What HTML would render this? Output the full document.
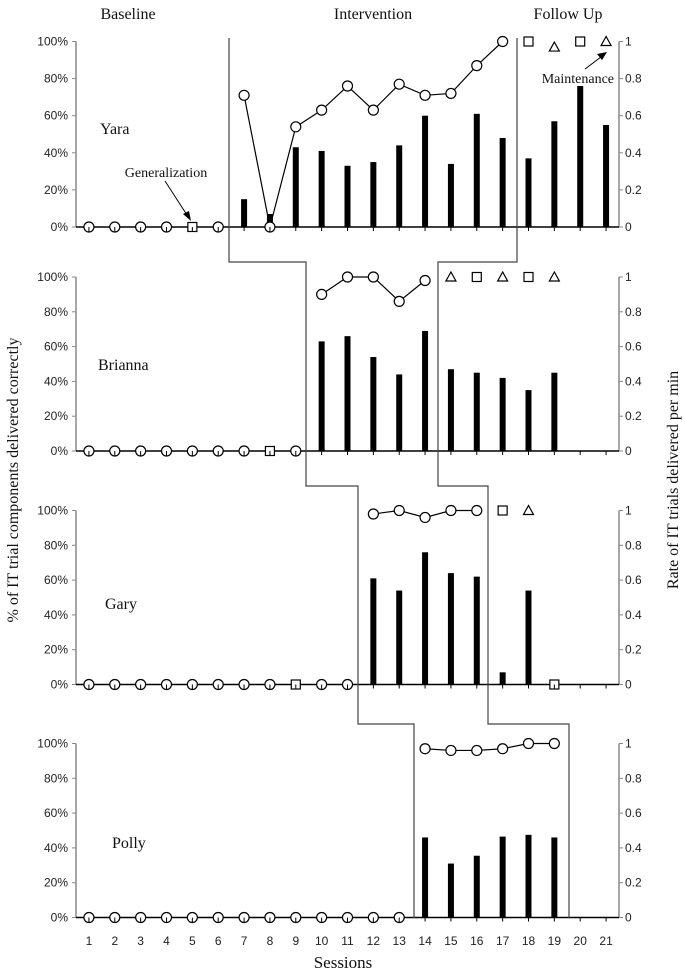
<!DOCTYPE html>
<html><head><meta charset="utf-8"><style>
html,body{margin:0;padding:0;background:#fff;}
svg{display:block;}
.tk{font-family:"Liberation Sans",sans-serif;font-size:12px;fill:#222;}
.sf{font-family:"Liberation Serif",serif;fill:#111;}
</style></head><body>
<svg id="chart" width="685" height="975" viewBox="0 0 685 975" xmlns="http://www.w3.org/2000/svg">
<g id="g"></g>
</svg>
<script>
const sessions = [1,2,3,4,5,6,7,8,9,10,11,12,13,14,15,16,17,18,19,20,21];
const participants = ["Yara","Brianna","Gary","Polly"];
const leftTicks = ["0%","20%","40%","60%","80%","100%"];
const rightTicks = ["0","0.2","0.4","0.6","0.8","1"];
// rate (circles), null = no point
const yaraRate = [0,0,0,0,null,0,0.71,0,0.54,0.63,0.76,0.63,0.77,0.71,0.72,0.87,1.0,null,null,null,null];
const briannaRate = [0,0,0,0,0,0,0,null,0,0.9,1,1,0.86,0.98,null,null,null,null,null,null,null];
const garyRate = [0,0,0,0,0,0,0,0,null,0,0,0.98,1,0.96,1,1,null,null,null,null,null];
const pollyRate = [0,0,0,0,0,0,0,0,0,0,0,0,0,0.97,0.96,0.96,0.97,1,1,null,null];
// percent correct (bars)
const yaraPct = [0,0,0,0,0,0,15,7,43,41,33,35,44,60,34,61,48,37,57,76,55];
const briannaPct = [0,0,0,0,0,0,0,0,0,63,66,54,44,69,47,45,42,35,45,0,0];
const garyPct = [0,0,0,0,0,0,0,0,0,0,0,61,54,76,64,62,7,54,0,0,0];
const pollyPct = [0,0,0,0,0,0,0,0,0,0,0,0,0,46,31,35.5,46.5,47.5,46,0,0];
// generalization (square) / maintenance (triangle) probes: [session, rate]
const yaraGen = [[5,0],[18,1],[20,1]];
const yaraMaint = [[19,0.97],[21,1]];
const briannaGen = [[8,0],[16,1],[18,1]];
const briannaMaint = [[15,1],[17,1],[19,1]];
const garyGen = [[9,0],[17,1],[19,0]];
const garyMaint = [[18,1]];
const pollyGen = [];
const pollyMaint = [];
// connected line segments (session ranges)
const yaraLine = [7,17];
const briannaLine = [10,14];
const garyLine = [12,16];
const pollyLine = [14,19];

const panels = [
 {name:"Yara",top:41.5,bot:227,rate:yaraRate,pct:yaraPct,gen:yaraGen,maint:yaraMaint,line:yaraLine,lx:100,ly:134},
 {name:"Brianna",top:277,bot:451,rate:briannaRate,pct:briannaPct,gen:briannaGen,maint:briannaMaint,line:briannaLine,lx:98,ly:370},
 {name:"Gary",top:510.5,bot:684.5,rate:garyRate,pct:garyPct,gen:garyGen,maint:garyMaint,line:garyLine,lx:105,ly:609},
 {name:"Polly",top:743.5,bot:917.5,rate:pollyRate,pct:pollyPct,gen:pollyGen,maint:pollyMaint,line:pollyLine,lx:112,ly:848}
];
const X0=76, X1=619, N=21, BW=(X1-X0)/N;
function xs(s){return X0+(s-0.5)*BW;}
const NS="http://www.w3.org/2000/svg";
const g=document.getElementById("g");
function el(t,a,txt){const e=document.createElementNS(NS,t);for(const k in a)e.setAttribute(k,a[k]);if(txt!==undefined)e.textContent=txt;g.appendChild(e);return e;}

panels.forEach((p,pi)=>{
  const yr=v=>p.bot-v*(p.bot-p.top);
  const yp=v=>p.bot-v/100*(p.bot-p.top);
  let e;
  e=el("line",{x1:X0,y1:p.top,x2:X0,y2:p.bot,stroke:"#888","stroke-width":1.5});
  
  
  e=el("line",{x1:X1,y1:p.top,x2:X1,y2:p.bot,stroke:"#888","stroke-width":1.5});
  
  
  leftTicks.forEach((t,i)=>{
    const y=p.top+(5-i)*(p.bot-p.top)/5;
    el("line",{x1:X0-4,y1:y,x2:X0,y2:y,stroke:"#888"});
    e=el("text",{x:X0-8,y:y+4,"text-anchor":"end",class:"tk"},t);
    
    
  });
  rightTicks.forEach((t,i)=>{
    const y=p.bot-i*(p.bot-p.top)/5;
    el("line",{x1:X1,y1:y,x2:X1+4,y2:y,stroke:"#888"});
    e=el("text",{x:X1+6,y:y+4,class:"tk"},t);
    
    
  });
  // bars
  p.pct.forEach((v,i)=>{
    if(!v)return;
    e=el("rect",{x:xs(sessions[i])-3,y:yp(v),width:6,height:p.bot-yp(v),fill:"#000"});
    
    
  });
  // x axis
  e=el("line",{x1:X0,y1:p.bot,x2:X1,y2:p.bot,stroke:"#000","stroke-width":1.5});
  
  
  sessions.forEach(s=>el("line",{x1:xs(s),y1:p.bot,x2:xs(s),y2:p.bot+4,stroke:"#000"}));
  // line
  const pts=[];
  for(let s=p.line[0];s<=p.line[1];s++){const v=p.rate[s-1];if(v!==null)pts.push(xs(s)+","+yr(v));}
  e=el("polyline",{points:pts.join(" "),fill:"none",stroke:"#000","stroke-width":1.2});
  
  
  p.rate.forEach((v,i)=>{
    if(v===null)return;
    e=el("circle",{cx:xs(sessions[i]),cy:yr(v),r:5,fill:"#fff",stroke:"#000","stroke-width":1.2});
    
    
    if(v===0)el("line",{x1:xs(sessions[i]),y1:yr(v),x2:xs(sessions[i]),y2:yr(v)+5,stroke:"#000"});
  });
  p.gen.forEach(([s,v])=>{
    e=el("rect",{x:xs(s)-4.5,y:yr(v)-4.5,width:9,height:9,fill:"#fff",stroke:"#000","stroke-width":1.2});
    
    
    if(v===0)el("line",{x1:xs(s),y1:yr(v),x2:xs(s),y2:yr(v)+4.5,stroke:"#000"});
  });
  p.maint.forEach(([s,v])=>{
    const x=xs(s),y=yr(v);
    e=el("polygon",{points:`${x},${y-5} ${x-5},${y+4} ${x+5},${y+4}`,fill:"#fff",stroke:"#000","stroke-width":1.2});
    
    
  });
  e=el("text",{x:p.lx,y:p.ly,class:"sf","font-size":16},p.name);
  
  
});
// session labels
sessions.forEach(s=>{
  const e=el("text",{x:xs(s),y:945,"text-anchor":"middle",class:"tk","font-size":12.5},String(s));
  
  
});
// phase lines
let e;
e=el("polyline",{points:"229,38 229,262 306,262 306,486 358,486 358,724 414,724 414,918",fill:"none",stroke:"#444","stroke-width":1.2});


e=el("polyline",{points:"517,38 517,262 438,262 438,486 488,486 488,724 569,724 569,918",fill:"none",stroke:"#444","stroke-width":1.2});


// phase titles
[["Baseline",128],["Intervention",373],["Follow Up",568]].forEach(([t,x])=>{
  const e=el("text",{x:x,y:19,"text-anchor":"middle",class:"sf","font-size":16},t);
  
  
});
// annotations
e=el("text",{x:166,y:177,"text-anchor":"middle",class:"sf","font-size":14},"Generalization");


el("line",{x1:165,y1:181,x2:187,y2:215,stroke:"#000"});
el("polygon",{points:"191,221 183,214 189,211",fill:"#000"});
e=el("text",{x:614,y:83,"text-anchor":"end",class:"sf","font-size":14},"Maintenance");


el("line",{x1:585,y1:69,x2:601,y2:57,stroke:"#000"});
el("polygon",{points:"607,52 597,54 602,60",fill:"#000"});
// axis titles
e=el("text",{x:0,y:0,transform:"translate(18,480) rotate(-90)","text-anchor":"middle",class:"sf","font-size":16},"% of IT trial components delivered correctly");


e=el("text",{x:0,y:0,transform:"translate(678,480) rotate(-90)","text-anchor":"middle",class:"sf","font-size":16},"Rate of IT trials delivered per min");


e=el("text",{x:343,y:968,"text-anchor":"middle",class:"sf","font-size":17},"Sessions");


</script>
</body></html>
